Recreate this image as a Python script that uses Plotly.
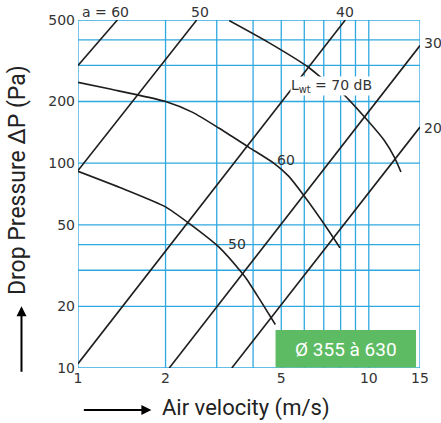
import math
import plotly.graph_objects as go

# ---- data ----
# straight "a" lines (endpoints, air velocity m/s -> pressure drop Pa)
a_labels = ["a = 60", "50", "40", "30", "20"]
a60_x = [1.0, 1.365]
a60_y = [300, 500]
a50_x = [1.0, 2.56]
a50_y = [92, 500]
a40_x = [1.0, 8.3]
a40_y = [10.5, 500]
a30_x = [2.06, 15.0]
a30_y = [10, 375]
a20_x = [3.38, 15.0]
a20_y = [10, 150]

# sound power curves Lwt
l70_x = [3.31, 4.5, 6.2, 7.06, 8.15, 9.67, 11.31, 12.24, 12.9]
l70_y = [497, 390, 294, 253, 218, 168, 129, 107, 90.6]
l60_x = [1.0, 1.29, 2.0, 2.48, 3.06, 3.87, 4.71, 5.30, 5.96, 7.25, 7.96]
l60_y = [248, 230, 200, 177, 148, 119.5, 100, 86.4, 69.9, 47.2, 38.6]
l50_x = [1.0, 1.43, 2.0, 2.41, 3.06, 3.67, 3.82, 4.2, 4.77]
l50_y = [91.3, 75, 61.2, 50.8, 38.8, 29.0, 26.9, 21.8, 16.3]

x_grid = [1, 2, 3, 4, 5, 6, 7, 8, 9, 10, 15]
x_text = ["1", "2", "", "", "5", "", "", "", "", "10", "15"]
y_grid = [10, 20, 30, 40, 50, 100, 200, 300, 400, 500]
y_text = ["10", "20", "", "", "50", "100", "200", "", "", "500"]

W, H = 441, 423
ML, MR, MT, MB = 78, 18, 19, 55
PW, PH = W - ML - MR, H - MT - MB

def px(x):
    return (x - ML) / PW

def py(y):
    return (H - MB - y) / PH

GRID = "#2ea8e0"
LINE = "#1e1e1e"
TXT = "#333333"

fig = go.Figure()
# grid lines drawn through the axes' own scales
gx, gy = [], []
for v in x_grid:
    gx += [v, v, None]
    gy += [y_grid[0], y_grid[-1], None]
for v in y_grid:
    gx += [x_grid[0], x_grid[-1], None]
    gy += [v, v, None]
fig.add_trace(go.Scatter(x=gx, y=gy, mode="lines", line=dict(color=GRID, width=1.3),
                         hoverinfo="skip", showlegend=False, cliponaxis=False))

for xs, ys in [(a60_x, a60_y), (a50_x, a50_y), (a40_x, a40_y), (a30_x, a30_y), (a20_x, a20_y),
               (l70_x, l70_y), (l60_x, l60_y), (l50_x, l50_y)]:
    fig.add_trace(go.Scatter(x=xs, y=ys, mode="lines",
                             line=dict(color=LINE, width=1.6, shape="spline", smoothing=0.6),
                             hoverinfo="skip", showlegend=False))

tickfont = dict(family="DejaVu Sans", size=14, color=TXT)
fig.update_xaxes(type="log", range=[0, math.log10(15)], tickvals=x_grid, ticktext=x_text,
                 showgrid=False, ticks="", showline=False,
                 tickfont=tickfont, zeroline=False)
fig.update_yaxes(type="log", range=[1, math.log10(500)], tickvals=y_grid, ticktext=y_text,
                 showgrid=False, ticks="", showline=False,
                 tickfont=tickfont, zeroline=False, ticklabelstandoff=2)

labfont = dict(family="DejaVu Sans", size=14, color=TXT)

def pann(x, y, text, font, xanchor="center", **kw):
    return dict(x=px(x), y=py(y), xref="paper", yref="paper", text=text, showarrow=False,
                xanchor=xanchor, yanchor="middle", font=font, **kw)

def dann(x, y, text, bg=None):
    d = dict(x=math.log10(x), y=math.log10(y), xref="x", yref="y", text=text,
             showarrow=False, xanchor="center", yanchor="middle", font=labfont, borderpad=0)
    if bg:
        d["bgcolor"] = bg
    return d

ann = [
    pann(106, 11, a_labels[0], labfont),
    pann(201, 11, a_labels[1], labfont),
    pann(347, 11, a_labels[2], labfont),
    pann(425, 42, a_labels[3], labfont, xanchor="left"),
    pann(425, 127, a_labels[4], labfont, xanchor="left"),
    dann(7.43, 237, "L<sub>wt</sub> = 70 dB", bg="white"),
    dann(5.21, 104, "60"),
    dann(3.53, 40.5, "50"),
    pann(348, 349, "Ø 355 à 630", dict(family="Roboto", size=19, color="white")),
    pann(247, 408, "Air velocity (m/s)", dict(family="Roboto", size=22, color="#222")),
    pann(17, 180, "Drop Pressure ΔP (Pa)", dict(family="Roboto", size=23, color="#222"), textangle=-90),
    dict(x=px(152), y=py(410), xref="paper", yref="paper", text="", showarrow=True,
         ax=-69, ay=0, arrowhead=2, arrowsize=1, arrowwidth=2, arrowcolor="black"),
    dict(x=px(21), y=py(306), xref="paper", yref="paper", text="", showarrow=True,
         ax=0, ay=67, arrowhead=2, arrowsize=1, arrowwidth=2, arrowcolor="black"),
]

fig.update_layout(
    width=W, height=H, margin=dict(l=ML, r=MR, t=MT, b=MB),
    paper_bgcolor="white", plot_bgcolor="white",
    annotations=ann,
    shapes=[dict(type="rect", xref="paper", yref="paper", x0=px(277.3), x1=px(419),
                 y0=py(367.5), y1=py(330), fillcolor="#5dbb63", line=dict(width=0), layer="above")],
)

fig.write_html("out.html", config={"displayModeBar": False},
               post_script="document.body.style.margin='0';")
